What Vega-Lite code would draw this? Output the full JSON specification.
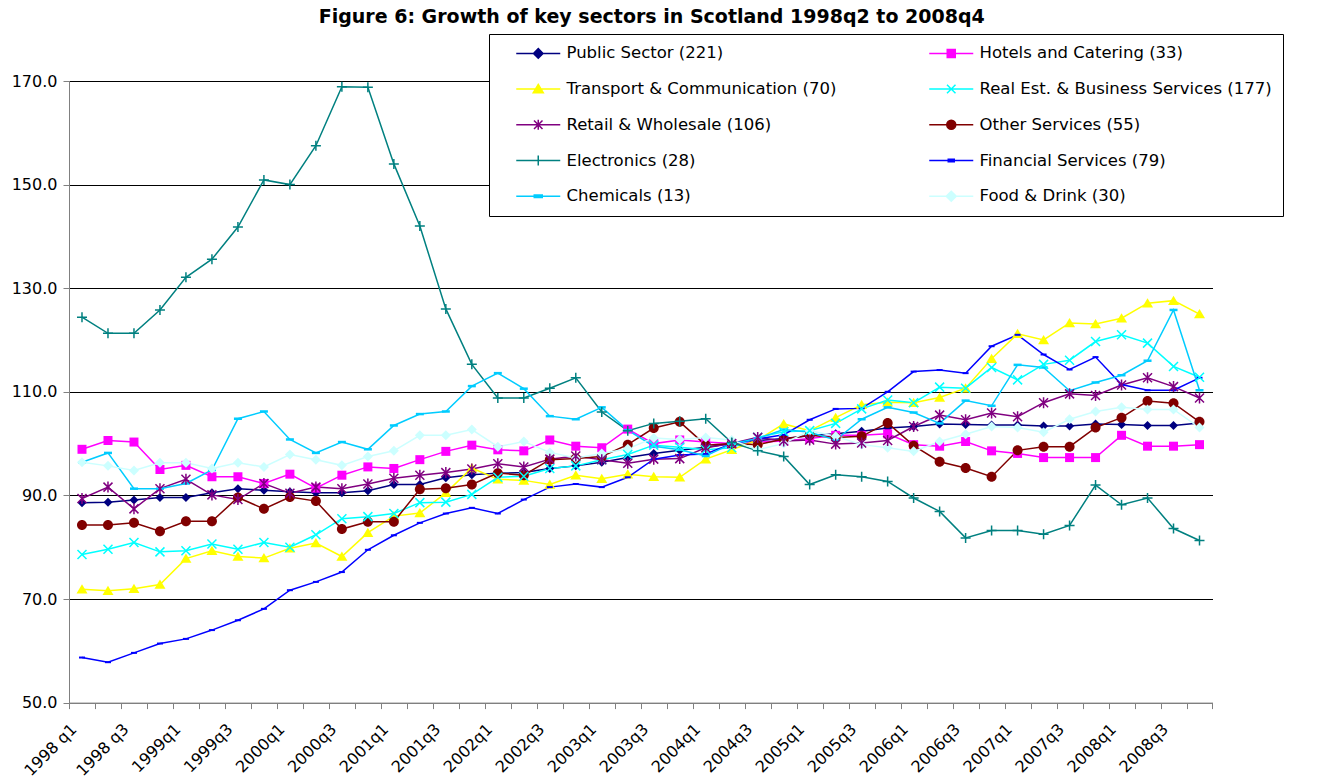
{
  "$schema": "https://vega.github.io/schema/vega-lite/v6.json",
  "width": 1143.5,
  "height": 621.6,
  "autosize": {"type": "none"},
  "padding": {"left": 69, "top": 81, "right": 104.5, "bottom": 79.4},
  "background": "white",
  "config": {"view": {"stroke": null}, "font": "DejaVu Sans"},
  "title": {
    "text": "Figure 6: Growth of key sectors in Scotland 1998q2 to 2008q4",
    "font": "DejaVu Sans", "fontSize": 19, "fontWeight": "bold", "color": "black",
    "anchor": "middle", "frame": "group", "dx": 11, "baseline": "alphabetic", "offset": -8
  },
  "data": {"values": [
    {"t":0,"PS":88.6,"HC":98.9,"TC":71.9,"RE":78.6,"RW":89.4,"OS":84.3,"EL":124.4,"FS":58.7,"CH":96.4,"FD":96.4},
    {"t":1,"PS":88.7,"HC":100.6,"TC":71.6,"RE":79.6,"RW":91.6,"OS":84.3,"EL":121.3,"FS":57.8,"CH":98.2,"FD":95.7},
    {"t":2,"PS":89.1,"HC":100.3,"TC":72.0,"RE":80.9,"RW":87.4,"OS":84.7,"EL":121.3,"FS":59.6,"CH":91.3,"FD":94.8},
    {"t":3,"PS":89.6,"HC":95.0,"TC":72.8,"RE":79.1,"RW":91.3,"OS":83.1,"EL":125.8,"FS":61.4,"CH":91.3,"FD":96.3},
    {"t":4,"PS":89.6,"HC":95.8,"TC":77.8,"RE":79.3,"RW":93.1,"OS":85.0,"EL":132.1,"FS":62.3,"CH":92.3,"FD":96.3},
    {"t":5,"PS":90.5,"HC":93.6,"TC":79.3,"RE":80.6,"RW":90.1,"OS":85.0,"EL":135.6,"FS":64.0,"CH":94.9,"FD":95.2},
    {"t":6,"PS":91.3,"HC":93.6,"TC":78.2,"RE":79.6,"RW":89.2,"OS":89.6,"EL":141.8,"FS":65.9,"CH":104.8,"FD":96.3},
    {"t":7,"PS":91.0,"HC":92.3,"TC":77.9,"RE":80.9,"RW":92.3,"OS":87.4,"EL":150.9,"FS":68.1,"CH":106.2,"FD":95.5},
    {"t":8,"PS":90.7,"HC":94.1,"TC":79.8,"RE":80.0,"RW":90.4,"OS":89.7,"EL":150.0,"FS":71.7,"CH":100.8,"FD":97.9},
    {"t":9,"PS":90.5,"HC":91.4,"TC":80.8,"RE":82.4,"RW":91.6,"OS":88.9,"EL":157.5,"FS":73.3,"CH":98.2,"FD":96.9},
    {"t":10,"PS":90.5,"HC":93.9,"TC":78.2,"RE":85.5,"RW":91.3,"OS":83.5,"EL":168.9,"FS":75.2,"CH":100.3,"FD":95.8},
    {"t":11,"PS":90.9,"HC":95.5,"TC":82.8,"RE":85.9,"RW":92.2,"OS":84.9,"EL":168.8,"FS":79.5,"CH":98.9,"FD":97.5},
    {"t":12,"PS":92.1,"HC":95.2,"TC":86.0,"RE":86.5,"RW":93.3,"OS":84.9,"EL":154.0,"FS":82.3,"CH":103.5,"FD":98.6},
    {"t":13,"PS":92.1,"HC":96.9,"TC":86.6,"RE":88.6,"RW":93.9,"OS":91.2,"EL":142.0,"FS":84.7,"CH":105.7,"FD":101.6},
    {"t":14,"PS":93.4,"HC":98.5,"TC":90.5,"RE":88.7,"RW":94.4,"OS":91.4,"EL":126.0,"FS":86.5,"CH":106.2,"FD":101.6},
    {"t":15,"PS":94.0,"HC":99.7,"TC":95.3,"RE":90.2,"RW":95.1,"OS":92.1,"EL":115.3,"FS":87.6,"CH":111.1,"FD":102.7},
    {"t":16,"PS":94.3,"HC":98.8,"TC":93.1,"RE":93.5,"RW":96.1,"OS":94.3,"EL":108.8,"FS":86.5,"CH":113.6,"FD":99.4},
    {"t":17,"PS":94.4,"HC":98.6,"TC":92.9,"RE":93.7,"RW":95.5,"OS":93.9,"EL":108.8,"FS":89.2,"CH":110.6,"FD":100.4},
    {"t":18,"PS":95.2,"HC":100.7,"TC":92.1,"RE":95.2,"RW":97.0,"OS":96.9,"EL":110.7,"FS":91.6,"CH":105.3,"FD":98.3},
    {"t":19,"PS":95.7,"HC":99.5,"TC":93.9,"RE":95.7,"RW":97.6,"OS":97.1,"EL":112.7,"FS":92.2,"CH":104.7,"FD":97.2},
    {"t":20,"PS":96.4,"HC":99.2,"TC":93.2,"RE":96.9,"RW":96.9,"OS":97.5,"EL":106.1,"FS":91.6,"CH":107.0,"FD":98.1},
    {"t":21,"PS":97.3,"HC":102.8,"TC":94.1,"RE":97.9,"RW":96.2,"OS":99.8,"EL":102.5,"FS":93.5,"CH":102.6,"FD":99.0},
    {"t":22,"PS":98.1,"HC":100.0,"TC":93.6,"RE":99.7,"RW":97.0,"OS":103.0,"EL":103.9,"FS":97.0,"CH":99.5,"FD":101.1},
    {"t":23,"PS":98.7,"HC":100.7,"TC":93.5,"RE":99.3,"RW":97.1,"OS":104.2,"EL":104.3,"FS":97.8,"CH":98.8,"FD":100.8},
    {"t":24,"PS":99.3,"HC":100.3,"TC":97.0,"RE":98.8,"RW":99.2,"OS":99.7,"EL":104.8,"FS":98.0,"CH":97.6,"FD":101.2},
    {"t":25,"PS":100.0,"HC":100.0,"TC":98.8,"RE":99.2,"RW":100.0,"OS":100.0,"EL":100.2,"FS":100.0,"CH":100.0,"FD":100.7},
    {"t":26,"PS":100.6,"HC":100.3,"TC":100.7,"RE":101.2,"RW":101.2,"OS":99.8,"EL":98.6,"FS":100.9,"CH":101.0,"FD":98.8},
    {"t":27,"PS":101.0,"HC":100.5,"TC":103.8,"RE":102.3,"RW":100.5,"OS":100.9,"EL":97.5,"FS":101.7,"CH":102.7,"FD":100.0},
    {"t":28,"PS":101.5,"HC":101.0,"TC":102.5,"RE":102.5,"RW":100.7,"OS":101.6,"EL":92.1,"FS":104.6,"CH":102.2,"FD":102.5},
    {"t":29,"PS":101.9,"HC":101.6,"TC":105.0,"RE":103.9,"RW":99.9,"OS":101.2,"EL":94.0,"FS":106.7,"CH":100.7,"FD":101.4},
    {"t":30,"PS":102.4,"HC":101.6,"TC":107.5,"RE":106.7,"RW":100.1,"OS":101.4,"EL":93.6,"FS":106.8,"CH":104.7,"FD":99.8},
    {"t":31,"PS":103.0,"HC":101.9,"TC":108.0,"RE":108.4,"RW":100.6,"OS":104.0,"EL":92.7,"FS":110.0,"CH":107.0,"FD":99.2},
    {"t":32,"PS":103.3,"HC":99.8,"TC":107.9,"RE":107.9,"RW":103.3,"OS":99.6,"EL":89.5,"FS":113.9,"CH":106.0,"FD":98.5},
    {"t":33,"PS":103.8,"HC":99.5,"TC":108.9,"RE":110.9,"RW":105.5,"OS":96.5,"EL":86.9,"FS":114.2,"CH":103.9,"FD":100.4},
    {"t":34,"PS":103.7,"HC":100.4,"TC":110.7,"RE":110.7,"RW":104.6,"OS":95.3,"EL":81.8,"FS":113.6,"CH":108.3,"FD":101.8},
    {"t":35,"PS":103.6,"HC":98.6,"TC":116.4,"RE":114.7,"RW":105.9,"OS":93.6,"EL":83.2,"FS":118.8,"CH":107.3,"FD":103.3},
    {"t":36,"PS":103.6,"HC":98.1,"TC":121.2,"RE":112.3,"RW":105.2,"OS":98.7,"EL":83.2,"FS":121.0,"CH":115.2,"FD":103.1},
    {"t":37,"PS":103.4,"HC":97.3,"TC":120.0,"RE":115.3,"RW":107.9,"OS":99.4,"EL":82.5,"FS":117.2,"CH":114.7,"FD":102.2},
    {"t":38,"PS":103.4,"HC":97.3,"TC":123.3,"RE":116.1,"RW":109.6,"OS":99.4,"EL":84.2,"FS":114.3,"CH":110.2,"FD":104.7},
    {"t":39,"PS":103.8,"HC":97.3,"TC":123.1,"RE":119.7,"RW":109.3,"OS":103.1,"EL":92.0,"FS":116.7,"CH":111.8,"FD":106.2},
    {"t":40,"PS":103.7,"HC":101.6,"TC":124.2,"RE":121.0,"RW":111.3,"OS":105.0,"EL":88.2,"FS":111.4,"CH":113.2,"FD":107.0},
    {"t":41,"PS":103.5,"HC":99.5,"TC":127.1,"RE":119.4,"RW":112.7,"OS":108.2,"EL":89.5,"FS":110.3,"CH":116.0,"FD":106.6},
    {"t":42,"PS":103.5,"HC":99.5,"TC":127.6,"RE":114.9,"RW":111.0,"OS":107.8,"EL":83.6,"FS":110.3,"CH":125.8,"FD":106.6},
    {"t":43,"PS":104.0,"HC":99.8,"TC":125.0,"RE":112.8,"RW":108.8,"OS":104.2,"EL":81.3,"FS":112.7,"CH":110.3,"FD":103.1}
  ]},
  "transform": [{"fold": ["PS","HC","TC","RE","RW","OS","EL","FS","CH","FD"], "as": ["s","v"]}],
  "encoding": {
    "x": {
      "field": "t", "type": "ordinal",
      "scale": {"type": "band", "paddingInner": 0, "paddingOuter": 0},
      "axis": {
        "title": null, "tickBand": "extent",
        "labelExpr": "datum.value % 2 == 0 ? (1998 + floor(datum.value / 4)) + (datum.value < 4 ? ' q' : 'q') + (datum.value % 4 + 1) : ''",
        "labelAngle": -45, "labelFont": "DejaVu Sans", "labelFontSize": 16, "labelColor": "black",
        "labelOverlap": false, "labelPadding": 12, "labelOffset": -14, "domainColor": "#808080", "tickColor": "#808080",
        "tickSize": 6, "grid": false
      }
    },
    "y": {
      "field": "v", "type": "quantitative",
      "scale": {"domain": [50, 170], "nice": false, "zero": false},
      "axis": {
        "title": null, "values": [50, 70, 90, 110, 130, 150, 170], "format": ".1f",
        "grid": true, "gridColor": {"condition": {"test": "datum.value == 50", "value": "#808080"}, "value": "black"},
        "gridWidth": 1, "domainColor": "#808080", "tickColor": "#808080", "tickSize": 6,
        "labelFont": "DejaVu Sans", "labelFontSize": 16, "labelColor": "black", "labelPadding": 6
      }
    }
  },
  "layer": [
    {
      "mark": {"type": "line", "strokeWidth": 1.5},
      "encoding": {
        "color": {"field": "s", "type": "nominal",
          "scale": {"domain": ["PS","HC","TC","RE","RW","OS","EL","FS","CH","FD"],
                    "range": ["#000080","#FF00FF","#FFFF00","#00FFFF","#800080","#800000","#008080","#0000FF","#00CCFF","#CCFFFF"]},
          "legend": null}
      }
    },
    {
      "transform": [{"filter": {"field": "s", "oneOf": ["PS","HC","TC","OS","FS","CH","FD"]}}],
      "mark": {"type": "point", "filled": true, "opacity": 1, "size": 100, "strokeWidth": 0},
      "encoding": {
        "color": {"field": "s", "type": "nominal",
          "scale": {"domain": ["PS","HC","TC","RE","RW","OS","EL","FS","CH","FD"],
                    "range": ["#000080","#FF00FF","#FFFF00","#00FFFF","#800080","#800000","#008080","#0000FF","#00CCFF","#CCFFFF"]},
          "legend": null},
        "shape": {"field": "s", "type": "nominal",
          "scale": {"domain": ["PS","HC","TC","RE","RW","OS","EL","FS","CH","FD"],
                    "range": ["M0,-0.9L0.9,0L0,0.9L-0.9,0Z","M-0.9,-0.9H0.9V0.9H-0.9Z","M0,-1L1.1,0.85L-1.1,0.85Z","M-0.9,-0.9L0.9,0.9M-0.9,0.9L0.9,-0.9","M-0.9,-0.9L0.9,0.9M-0.9,0.9L0.9,-0.9M0,-1.1V1.1","M-1,0A1,1 0 1,0 1,0A1,1 0 1,0 -1,0Z","M-1,0H1M0,-1V1","M-0.6,-0.2H0.6V0.2H-0.6Z","M-0.8,-0.25H0.8V0.25H-0.8Z","M0,-1L1,0L0,1L-1,0Z"]},
          "legend": null}
      }
    },
    {
      "transform": [{"filter": {"field": "s", "oneOf": ["RE","RW","EL"]}}],
      "mark": {"type": "point", "filled": false, "opacity": 1, "size": 100, "strokeWidth": 1.5},
      "encoding": {
        "color": {"field": "s", "type": "nominal",
          "scale": {"domain": ["PS","HC","TC","RE","RW","OS","EL","FS","CH","FD"],
                    "range": ["#000080","#FF00FF","#FFFF00","#00FFFF","#800080","#800000","#008080","#0000FF","#00CCFF","#CCFFFF"]},
          "legend": null},
        "shape": {"field": "s", "type": "nominal",
          "scale": {"domain": ["PS","HC","TC","RE","RW","OS","EL","FS","CH","FD"],
                    "range": ["M0,-0.9L0.9,0L0,0.9L-0.9,0Z","M-0.9,-0.9H0.9V0.9H-0.9Z","M0,-1L1.1,0.85L-1.1,0.85Z","M-0.9,-0.9L0.9,0.9M-0.9,0.9L0.9,-0.9","M-0.9,-0.9L0.9,0.9M-0.9,0.9L0.9,-0.9M0,-1.1V1.1","M-1,0A1,1 0 1,0 1,0A1,1 0 1,0 -1,0Z","M-1,0H1M0,-1V1","M-0.6,-0.2H0.6V0.2H-0.6Z","M-0.8,-0.25H0.8V0.25H-0.8Z","M0,-1L1,0L0,1L-1,0Z"]},
          "legend": null}
      }
    },
    {
      "transform": [{"filter": "false"}],
      "mark": {"type": "point", "filled": true, "opacity": 1, "size": 100, "strokeWidth": 1.5},
      "encoding": {
        "fill": {"field": "s", "type": "nominal",
          "scale": {"domain": ["PS","TC","RW","EL","CH","HC","RE","OS","FS","FD"],
                    "range": ["#000080","#FFFF00","#800080","#008080","#00CCFF","#FF00FF","#00FFFF","#800000","#0000FF","#CCFFFF"]},
          "legend": {"orient": "none", "legendX": 420, "legendY": -47, "columns": 2, "title": null,
            "labelFont": "DejaVu Sans", "labelFontSize": 16.5, "labelColor": "black", "labelLimit": 500,
            "symbolSize": 100, "symbolStrokeWidth": 1.5, "symbolOffset": 30, "labelOffset": 20,
            "rowPadding": 18.75, "columnPadding": 76, "padding": 11, "strokeColor": "black", "fillColor": "white",
            "labelExpr": "datum.label == 'PS' ? 'Public Sector (221)' : datum.label == 'HC' ? 'Hotels and Catering (33)' : datum.label == 'TC' ? 'Transport & Communication (70)' : datum.label == 'RE' ? 'Real Est. & Business Services (177)' : datum.label == 'RW' ? 'Retail & Wholesale (106)' : datum.label == 'OS' ? 'Other Services (55)' : datum.label == 'EL' ? 'Electronics (28)' : datum.label == 'FS' ? 'Financial Services (79)' : datum.label == 'CH' ? 'Chemicals (13)' : 'Food & Drink (30)'"}},
        "stroke": {"field": "s", "type": "nominal",
          "scale": {"domain": ["PS","TC","RW","EL","CH","HC","RE","OS","FS","FD"],
                    "range": ["#000080","#FFFF00","#800080","#008080","#00CCFF","#FF00FF","#00FFFF","#800000","#0000FF","#CCFFFF"]},
          "legend": {"orient": "none", "legendX": 420, "legendY": -47, "columns": 2, "title": null,
            "labelFont": "DejaVu Sans", "labelFontSize": 16.5, "labelColor": "black", "labelLimit": 500,
            "symbolSize": 100, "symbolStrokeWidth": 1.5, "symbolOffset": 30, "labelOffset": 20,
            "rowPadding": 18.75, "columnPadding": 76, "padding": 11, "strokeColor": "black", "fillColor": "white",
            "labelExpr": "datum.label == 'PS' ? 'Public Sector (221)' : datum.label == 'HC' ? 'Hotels and Catering (33)' : datum.label == 'TC' ? 'Transport & Communication (70)' : datum.label == 'RE' ? 'Real Est. & Business Services (177)' : datum.label == 'RW' ? 'Retail & Wholesale (106)' : datum.label == 'OS' ? 'Other Services (55)' : datum.label == 'EL' ? 'Electronics (28)' : datum.label == 'FS' ? 'Financial Services (79)' : datum.label == 'CH' ? 'Chemicals (13)' : 'Food & Drink (30)'"}},
        "shape": {"field": "s", "type": "nominal",
          "scale": {"domain": ["PS","TC","RW","EL","CH","HC","RE","OS","FS","FD"],
                    "range": ["M-4.4,0H4.4M0,-0.95L0.95,0L0,0.95L-0.95,0Z","M-4.4,0H4.4M0,-0.9L1,0.75L-1,0.75Z","M-4.4,0H4.4M-0.85,-0.85L0.85,0.85M-0.85,0.85L0.85,-0.85M0,-1V1","M-4.4,0H4.4M0,-1V1","M-4.4,0H4.4M-0.8,-0.25H0.8V0.25H-0.8Z","M-4.4,0H4.4M-0.8,-0.8H0.8V0.8H-0.8Z","M-4.4,0H4.4M-0.85,-0.85L0.85,0.85M-0.85,0.85L0.85,-0.85","M-4.4,0H4.4M-0.9,0A0.9,0.9 0 1,0 0.9,0A0.9,0.9 0 1,0 -0.9,0Z","M-4.4,0H4.4M-0.6,-0.25H0.6V0.25H-0.6Z","M-4.4,0H4.4M0,-1L1,0L0,1L-1,0Z"]},
          "legend": {"orient": "none", "legendX": 420, "legendY": -47, "columns": 2, "title": null,
            "labelFont": "DejaVu Sans", "labelFontSize": 16.5, "labelColor": "black", "labelLimit": 500,
            "symbolSize": 100, "symbolStrokeWidth": 1.5, "symbolOffset": 30, "labelOffset": 20,
            "rowPadding": 18.75, "columnPadding": 76, "padding": 11, "strokeColor": "black", "fillColor": "white",
            "labelExpr": "datum.label == 'PS' ? 'Public Sector (221)' : datum.label == 'HC' ? 'Hotels and Catering (33)' : datum.label == 'TC' ? 'Transport & Communication (70)' : datum.label == 'RE' ? 'Real Est. & Business Services (177)' : datum.label == 'RW' ? 'Retail & Wholesale (106)' : datum.label == 'OS' ? 'Other Services (55)' : datum.label == 'EL' ? 'Electronics (28)' : datum.label == 'FS' ? 'Financial Services (79)' : datum.label == 'CH' ? 'Chemicals (13)' : 'Food & Drink (30)'"}}
      }
    }
  ],
  "resolve": {"scale": {"shape": "independent", "fill": "independent", "stroke": "independent"}}
}
